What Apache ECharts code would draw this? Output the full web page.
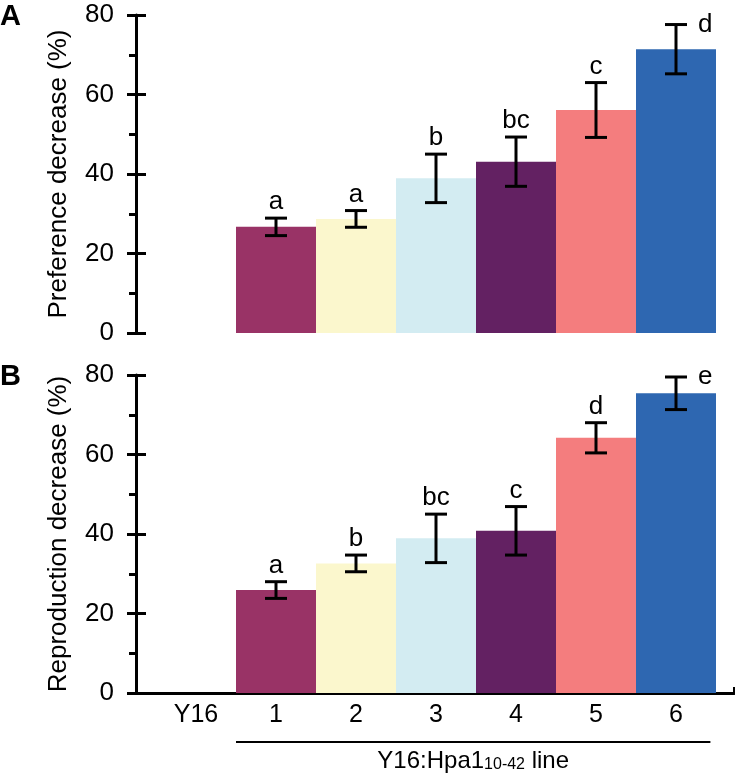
<!DOCTYPE html>
<html>
<head>
<meta charset="utf-8">
<script src="https://cdn.jsdelivr.net/npm/echarts@6/dist/echarts.min.js"></script>
<style>
  html, body { margin: 0; padding: 0; background: #fff; }
  #chart { width: 735px; height: 778px; }
</style>
</head>
<body>
<div id="chart"></div>
<script>
// categories on the x axis (Y16 = control, no bar)
const categories = ['Y16', '1', '2', '3', '4', '5', '6']
const barColors = [null, '#993366', '#FBF7CD', '#D3ECF2', '#632162', '#F47D7E', '#2E67B1']

// panel A: preference decrease (%)
const prefMean = [null, 26.7, 28.7, 38.9, 43.1, 56.1, 71.4]
const prefErr = [null, 2.2, 2.1, 6.1, 6.2, 6.9, 6.2]
const prefLetters = ['', 'a', 'a', 'b', 'bc', 'c', 'd']

// panel B: reproduction decrease (%)
const reproMean = [null, 25.9, 32.6, 38.9, 40.8, 64.2, 75.4]
const reproErr = [null, 2.1, 2.1, 6.1, 6.1, 3.8, 4.1]
const reproLetters = ['', 'a', 'b', 'bc', 'c', 'd', 'e']

const yTicks = { min: 0, max: 80, interval: 20 }

const FONT = "'Liberation Sans', Arial, Helvetica, sans-serif"
const chart = echarts.init(document.getElementById('chart'))

function barData (mean) {
  const out = []
  mean.forEach((v, i) => {
    if (v == null) return
    out.push({ value: [i, v], itemStyle: { color: barColors[i] } })
  })
  return out
}

function errData (mean, err) {
  const out = []
  mean.forEach((v, i) => {
    if (v == null) return
    out.push([i, v - err[i], v + err[i]])
  })
  return out
}

function errRender (letters) {
  return function (params, api) {
    const x = api.value(0)
    const lo = api.coord([x, api.value(1)])
    const hi = api.coord([x, api.value(2)])
    const cap = 11
    const line = { stroke: '#000', lineWidth: 3 }
    const last = x === categories.length - 1
    return {
      type: 'group',
      children: [
        { type: 'line', shape: { x1: hi[0], y1: hi[1], x2: lo[0], y2: lo[1] }, style: line },
        { type: 'line', shape: { x1: hi[0] - cap, y1: hi[1], x2: hi[0] + cap, y2: hi[1] }, style: line },
        { type: 'line', shape: { x1: lo[0] - cap, y1: lo[1], x2: lo[0] + cap, y2: lo[1] }, style: line },
        {
          type: 'text',
          style: {
            text: letters[x],
            x: last ? hi[0] + 22 : hi[0],
            y: last ? hi[1] : hi[1] - 3,
            align: last ? 'left' : 'center',
            verticalAlign: last ? 'middle' : 'bottom',
            fontSize: 26,
            fontFamily: FONT,
            fill: '#000'
          }
        }
      ]
    }
  }
}

function mainY (gridIndex, name) {
  return {
    type: 'value',
    gridIndex: gridIndex,
    position: 'left',
    min: yTicks.min,
    max: yTicks.max,
    interval: yTicks.interval,
    name: name,
    nameLocation: 'middle',
    nameGap: 64,
    nameTextStyle: { fontSize: 26, fontFamily: FONT, color: '#000' },
    axisLine: { show: true, onZero: false, lineStyle: { color: '#000', width: 3 } },
    axisTick: { show: true, length: 9, lineStyle: { color: '#000', width: 3 } },
    minorTick: { show: true, splitNumber: 2, length: 7, lineStyle: { color: '#000', width: 3 } },
    axisLabel: { fontSize: 26, fontFamily: FONT, color: '#000', margin: 22 },
    splitLine: { show: false }
  }
}

// second y axis per panel, only to draw the inner half of the major ticks
function innerTickY (gridIndex) {
  return {
    type: 'value',
    gridIndex: gridIndex,
    position: 'left',
    min: yTicks.min,
    max: yTicks.max,
    interval: yTicks.interval,
    axisLine: { show: false, onZero: false },
    axisTick: { show: true, inside: true, length: 10, lineStyle: { color: '#000', width: 3 } },
    axisLabel: { show: false },
    splitLine: { show: false }
  }
}

const xMin = -0.75
const xMax = 6.725

chart.setOption({
  animation: false,
  grid: [
    { left: 136, right: 1, top: 15, height: 318 },
    { left: 136, right: 1, top: 375, height: 318 }
  ],
  xAxis: [
    { type: 'value', gridIndex: 0, min: xMin, max: xMax, show: false, splitLine: { show: false } },
    {
      type: 'value',
      gridIndex: 1,
      min: xMin,
      max: xMax,
      axisLine: { show: true, lineStyle: { color: '#000', width: 3 } },
      axisTick: { show: true, inside: true, length: 6, customValues: [xMax], lineStyle: { color: '#000', width: 3 } },
      axisLabel: {
        customValues: categories.map((c, i) => i),
        formatter: v => categories[Math.round(v)],
        fontSize: 25,
        fontFamily: FONT,
        color: '#000',
        margin: 10
      },
      splitLine: { show: false }
    }
  ],
  yAxis: [
    mainY(0, 'Preference decrease (%)'),
    innerTickY(0),
    mainY(1, 'Reproduction decrease (%)'),
    innerTickY(1)
  ],
  series: [
    { type: 'bar', xAxisIndex: 0, yAxisIndex: 0, barWidth: 80, data: barData(prefMean) },
    { type: 'custom', xAxisIndex: 0, yAxisIndex: 0, renderItem: errRender(prefLetters), data: errData(prefMean, prefErr), z: 5 },
    { type: 'bar', xAxisIndex: 1, yAxisIndex: 2, barWidth: 80, data: barData(reproMean) },
    { type: 'custom', xAxisIndex: 1, yAxisIndex: 2, renderItem: errRender(reproLetters), data: errData(reproMean, reproErr), z: 5 }
  ]
})

// panel letters and the bracket under lines 1-6
const left = chart.convertToPixel({ xAxisIndex: 1 }, 0.5)
const right = chart.convertToPixel({ xAxisIndex: 1 }, 6.43)
chart.setOption({
  graphic: [
    { type: 'text', left: 0, top: 2, style: { text: 'A', fontSize: 29, fontWeight: 'bold', fontFamily: FONT, fill: '#000' } },
    { type: 'text', left: 0, top: 362, style: { text: 'B', fontSize: 29, fontWeight: 'bold', fontFamily: FONT, fill: '#000' } },
    { type: 'line', shape: { x1: left, y1: 742, x2: right, y2: 742 }, style: { stroke: '#000', lineWidth: 2 } },
    {
      type: 'text',
      style: {
        x: (left + right) / 2,
        y: 761,
        align: 'center',
        verticalAlign: 'middle',
        text: '{n|Y16:Hpa1}{s|10-42}{n| line}',
        rich: {
          n: { fontSize: 24, fontFamily: FONT, fill: '#000', verticalAlign: 'bottom' },
          s: { fontSize: 16, fontFamily: FONT, fill: '#000', verticalAlign: 'bottom' }
        }
      }
    }
  ]
})
</script>
</body>
</html>
